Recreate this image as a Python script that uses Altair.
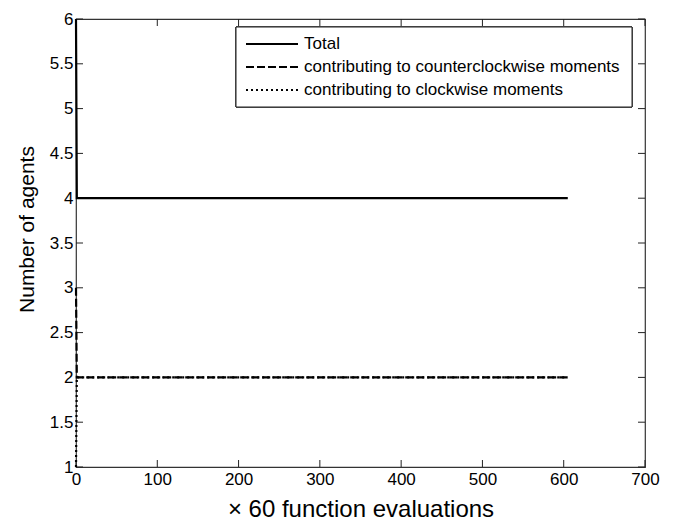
import altair as alt
import pandas as pd

series_names = ["Total", "contributing to counterclockwise moments", "contributing to clockwise moments"]
x_total = [0, 1, 605]
y_total = [6, 4, 4]
x_ccw = [0, 1, 605]
y_ccw = [3, 2, 2]
x_cw = [0, 1, 605]
y_cw = [1, 2, 2]

x_ticks = [0, 100, 200, 300, 400, 500, 600, 700]
y_ticks = [1, 1.5, 2, 2.5, 3, 3.5, 4, 4.5, 5, 5.5, 6]

rows = []
for name, xs_, ys_ in [(series_names[0], x_total, y_total),
                       (series_names[1], x_ccw, y_ccw),
                       (series_names[2], x_cw, y_cw)]:
    for i, (xv, yv) in enumerate(zip(xs_, ys_)):
        rows.append({"series": name, "x": xv, "y": yv, "order": i})
df = pd.DataFrame(rows)
leg_df = pd.DataFrame({"series": series_names, "row": list(range(len(series_names)))})

W, H = 569, 448
FONT = "Liberation Sans"
xs = alt.Scale(domain=[0, 700], nice=False, zero=False)
ys = alt.Scale(domain=[1, 6], nice=False, zero=False)
dash_scale = alt.Scale(domain=series_names, range=[[1, 0], [8, 3], [2, 3]])

lines = alt.Chart(df).mark_line(color="black", strokeWidth=2.2, strokeCap="butt").encode(
    x=alt.X("x:Q", scale=xs,
            axis=alt.Axis(values=x_ticks, title="× 60 function evaluations", ticks=False, domain=False,
                          grid=False, labelFontSize=17, labelFont=FONT, titleFont=FONT,
                          titleFontSize=24, titleFontWeight="normal", labelPadding=4,
                          titlePadding=10, labelColor="black", titleColor="black",
                          labelFlush=False)),
    y=alt.Y("y:Q", scale=ys,
            axis=alt.Axis(values=y_ticks, title="Number of agents", ticks=False, domain=False,
                          grid=False, labelFontSize=17, labelFont=FONT, titleFont=FONT,
                          titleFontSize=21, titleFontWeight="normal", labelPadding=3,
                          titlePadding=12, labelColor="black", titleColor="black",
                          titleY=210, format="~g", labelFlush=False)),
    strokeDash=alt.StrokeDash("series:N", scale=dash_scale, legend=None),
    order="order:Q",
)

xt = pd.DataFrame({"t": x_ticks})
yt = pd.DataFrame({"t": y_ticks})
TL = 7
xb = alt.Chart(xt).mark_rule(color="#222", strokeWidth=1).encode(
    x=alt.X("t:Q", scale=xs), y=alt.value(H), y2=alt.value(H - TL))
xtop = alt.Chart(xt).mark_rule(color="#222", strokeWidth=1).encode(
    x=alt.X("t:Q", scale=xs), y=alt.value(0), y2=alt.value(TL))
yl = alt.Chart(yt).mark_rule(color="#222", strokeWidth=1).encode(
    y=alt.Y("t:Q", scale=ys, axis=None), x=alt.value(0), x2=alt.value(TL))
yr = alt.Chart(yt).mark_rule(color="#222", strokeWidth=1).encode(
    y=alt.Y("t:Q", scale=ys, axis=None), x=alt.value(W), x2=alt.value(W - TL))

# legend box (drawn manually)
row_scale = alt.Scale(type="point", domain=[0, 1, 2], range=[25, 71], padding=0)
leg_box = alt.Chart(leg_df).mark_rect(fill="white", stroke="#222", strokeWidth=1).encode(
    x=alt.value(160), x2=alt.value(556), y=alt.value(8), y2=alt.value(88))
leg_sym = alt.Chart(leg_df).mark_rule(color="black", strokeWidth=2.2, strokeCap="butt").encode(
    x=alt.value(170), x2=alt.value(222),
    y=alt.Y("row:O", scale=row_scale, axis=None),
    strokeDash=alt.StrokeDash("series:N", scale=dash_scale, legend=None))
leg_txt = alt.Chart(leg_df).mark_text(align="left", baseline="middle", fontSize=17, font=FONT,
                                      color="black").encode(
    x=alt.value(228), y=alt.Y("row:O", scale=row_scale, axis=None), text="series:N")

chart = alt.layer(xb, xtop, yl, yr, lines, leg_box, leg_sym, leg_txt).resolve_scale(
    y="independent"
).properties(
    width=W, height=H,
    autosize=alt.AutoSizeParams(type="none"),
    padding={"left": 76, "top": 19, "right": 30, "bottom": 53},
    background="white",
).configure_view(stroke="#333", strokeWidth=1.2)

chart.save("out.html", embed_options={"renderer": "svg", "actions": False})
